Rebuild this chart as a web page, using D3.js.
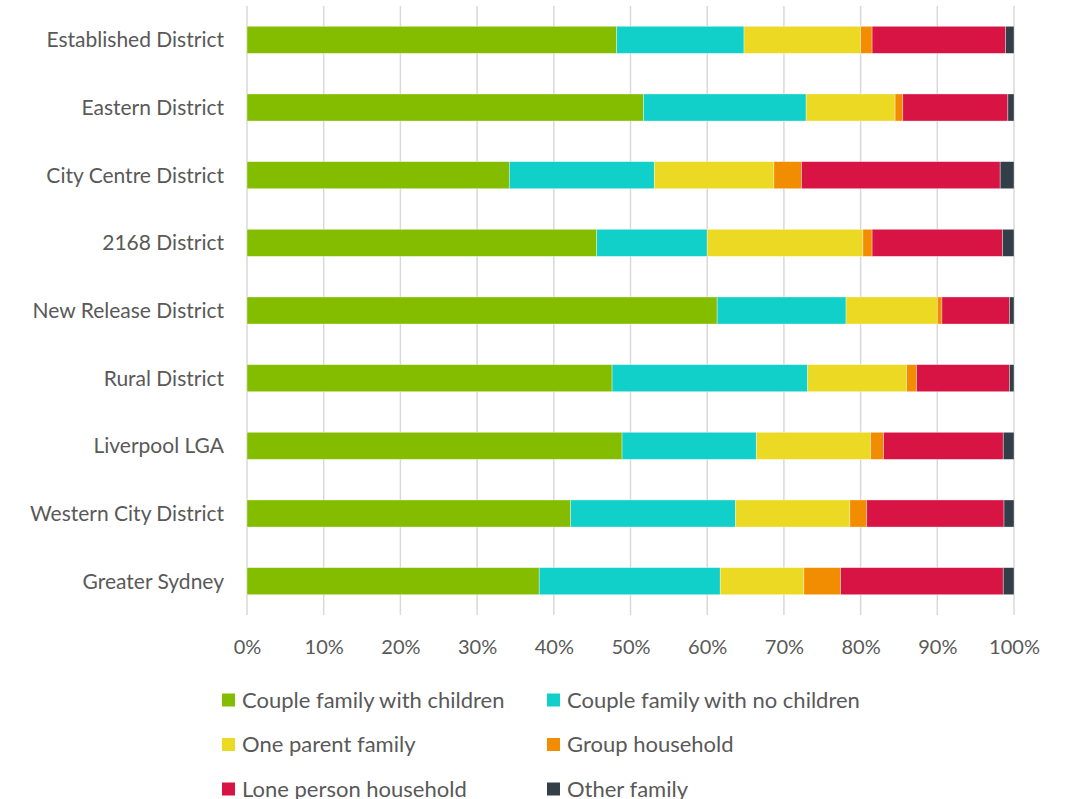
<!DOCTYPE html>
<html>
<head>
<meta charset="utf-8">
<script src="https://cdn.jsdelivr.net/npm/d3@7"></script>
<style>
  body { margin: 0; background: #fff; }
  text { font-family: Lato, "Open Sans", sans-serif; fill: #595959; }
</style>
</head>
<body>
<script>
const districts = [
  "Established District", "Eastern District", "City Centre District", "2168 District",
  "New Release District", "Rural District", "Liverpool LGA", "Western City District", "Greater Sydney"
];
const seriesNames = [
  "Couple family with children", "Couple family with no children", "One parent family",
  "Group household", "Lone person household", "Other family"
];
const seriesColors = ["#84bd00", "#11cfc9", "#ebd924", "#f28c00", "#d81444", "#333f48"];

// percent of households, per district, in series order
const coupleWithChildren = [48.2, 51.7, 34.2, 45.6, 61.3, 47.6, 48.9, 42.2, 38.1];
const coupleNoChildren   = [16.6, 21.2, 18.9, 14.4, 16.8, 25.5, 17.5, 21.5, 23.6];
const oneParent          = [15.2, 11.6, 15.6, 20.3, 11.9, 12.9, 14.9, 14.9, 10.9];
const groupHousehold     = [1.5, 1.0, 3.6, 1.2, 0.6, 1.3, 1.7, 2.2, 4.8];
const lonePerson         = [17.4, 13.7, 25.9, 17.0, 8.8, 12.1, 15.6, 17.9, 21.2];
const otherFamily        = [1.1, 0.8, 1.8, 1.5, 0.6, 0.6, 1.4, 1.3, 1.4];

const tickValues = [0, 0.1, 0.2, 0.3, 0.4, 0.5, 0.6, 0.7, 0.8, 0.9, 1];

const allSeries = [coupleWithChildren, coupleNoChildren, oneParent, groupHousehold, lonePerson, otherFamily];
const rows = districts.map((d, i) => {
  const row = { district: d };
  seriesNames.forEach((s, j) => row[s] = allSeries[j][i]);
  return row;
});

const width = 1066, height = 799;
const margin = { top: 6, right: 52, bottom: 184, left: 247 };

const svg = d3.select("body").append("svg")
  .attr("width", width).attr("height", height);

const stacked = d3.stack().keys(seriesNames).offset(d3.stackOffsetExpand)(rows);

const x = d3.scaleLinear().domain([0, 1]).range([margin.left, width - margin.right]);
const y = d3.scaleBand().domain(districts)
  .range([margin.top, height - margin.bottom]).paddingInner(0.6).paddingOuter(0.3);

// gridlines
svg.append("g")
  .selectAll("line").data(tickValues).join("line")
  .attr("x1", d => x(d)).attr("x2", d => x(d))
  .attr("y1", margin.top).attr("y2", height - margin.bottom)
  .attr("stroke", "#d9d9d9").attr("stroke-width", 1.5);

// bars
svg.append("g")
  .selectAll("g").data(stacked).join("g")
  .attr("fill", (d, i) => seriesColors[i])
  .selectAll("rect").data(d => d).join("rect")
  .attr("x", d => x(d[0]))
  .attr("width", d => x(d[1]) - x(d[0]))
  .attr("y", d => y(d.data.district))
  .attr("height", y.bandwidth())
  .attr("stroke", "#ffffff").attr("stroke-opacity", 0.5).attr("stroke-width", 0.7);

// category labels
svg.append("g")
  .selectAll("text").data(districts).join("text")
  .attr("x", margin.left - 23)
  .attr("y", d => y(d) + y.bandwidth() / 2)
  .attr("dy", "0.35em")
  .attr("text-anchor", "end")
  .style("font-size", "21px")
  .text(d => d);

// x axis labels
const xAxis = d3.axisBottom(x).tickValues(tickValues).tickFormat(d3.format(".0%")).tickSize(0).tickPadding(0);
const xg = svg.append("g")
  .attr("transform", `translate(0,${height - margin.bottom})`)
  .call(xAxis);
xg.select(".domain").remove();
xg.selectAll("text")
  .attr("y", 32).attr("dy", "0.35em")
  .style("font-size", "20px").attr("fill", "#595959");

// legend
const legend = svg.append("g");
const items = legend.selectAll("g").data(seriesNames).join("g")
  .attr("transform", (d, i) => `translate(${i % 2 === 0 ? 222 : 547},${700 + Math.floor(i / 2) * 44.5})`);
items.append("rect")
  .attr("x", 0).attr("y", -6.5).attr("width", 13).attr("height", 13)
  .attr("fill", (d, i) => seriesColors[i]);
items.append("text")
  .attr("x", 20).attr("dy", "0.35em")
  .style("font-size", "22px")
  .text(d => d);
</script>
</body>
</html>
